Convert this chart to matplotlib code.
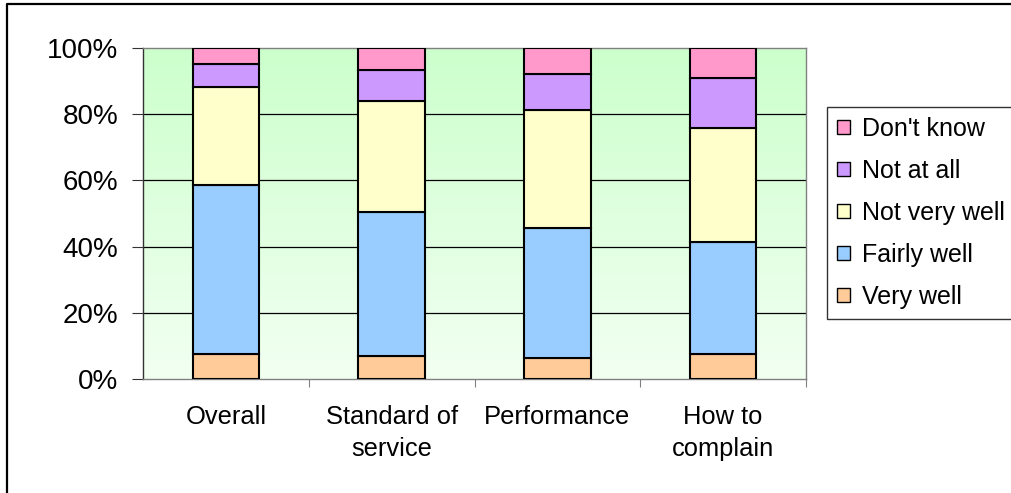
import matplotlib
matplotlib.use('Agg')
import matplotlib.pyplot as plt
from matplotlib.colors import LinearSegmentedColormap
from matplotlib.lines import Line2D
import numpy as np

plt.rcParams['font.family'] = ['Liberation Sans', 'DejaVu Sans']

categories = ['Overall', 'Standard of\nservice', 'Performance', 'How to\ncomplain']
series_names = ['Very well', 'Fairly well', 'Not very well', 'Not at all', "Don't know"]
very_well = [7.5, 6.9, 6.2, 7.5]
fairly_well = [51.2, 43.5, 39.3, 33.8]
not_very_well = [29.6, 33.7, 35.7, 34.4]
not_at_all = [6.8, 9.2, 10.9, 15.1]
dont_know = [4.9, 6.7, 7.9, 9.2]
colors = ['#FFCC99', '#99CCFF', '#FFFFCC', '#CC99FF', '#FF99CC']
series = [very_well, fairly_well, not_very_well, not_at_all, dont_know]

W, H = 1011, 493
fig = plt.figure(figsize=(W / 100, H / 100), dpi=100)
ax = fig.add_axes([143 / W, 1 - 379 / H, 663 / W, 331 / H])

# green gradient background of the plot area
grad = LinearSegmentedColormap.from_list('g', ['#F2FFF2', '#CCFFCC'])
ax.imshow(np.linspace(0, 1, 256).reshape(-1, 1), cmap=grad, aspect='auto',
          extent=[-0.5, 3.5, 0, 100], origin='lower', zorder=0)

x = np.arange(len(categories))
bottom = np.zeros(len(categories))
handles = []
for vals, name, col in zip(series, series_names, colors):
    b = ax.bar(x, vals, width=0.4, bottom=bottom, color=col, edgecolor='black',
               linewidth=1.5, label=name, zorder=3)
    handles.append(b)
    bottom += np.array(vals)

ax.set_xlim(-0.5, 3.5)
ax.set_ylim(0, 100)
for yv in [20, 40, 60, 80]:
    ax.axhline(yv, color='black', linewidth=0.9, zorder=1)

ax.set_yticks([0, 20, 40, 60, 80, 100])
ax.set_yticklabels(['0%', '20%', '40%', '60%', '80%', '100%'], fontsize=20)
ax.tick_params(axis='y', length=8, width=0.8, pad=10, color='#333333')

ax.set_xticks(x)
ax.set_xticklabels(categories, fontsize=18.4, linespacing=1.38)
ax.set_xticks([0.5, 1.5, 2.5, 3.5], minor=True)
ax.tick_params(axis='x', which='major', length=0, pad=19)
ax.tick_params(axis='x', which='minor', length=6, width=0.8, color='#808080')

for side in ['top', 'right', 'bottom']:
    ax.spines[side].set_color('#808080')
    ax.spines[side].set_linewidth(1.0)
ax.spines['left'].set_color('#333333')
ax.spines['left'].set_linewidth(1.0)

leg = fig.legend(handles[::-1], series_names[::-1], loc='upper left',
                 bbox_to_anchor=(827 / W, 1 - 107 / H), fontsize=18,
                 frameon=True, fancybox=False, edgecolor='black',
                 handlelength=0.5, handleheight=0.5, handletextpad=0.5,
                 labelspacing=0.72, borderpad=0.4, borderaxespad=0)
leg.get_frame().set_linewidth(1.0)
for p in leg.get_patches():
    p.set_linewidth(1.0)

# outer chart border
fig.add_artist(Line2D([7 / W, 7 / W, 1.0], [0.0, 1 - 4 / H, 1 - 4 / H],
                      transform=fig.transFigure, color='black', linewidth=1.6))

fig.savefig('out.png', dpi=100)
